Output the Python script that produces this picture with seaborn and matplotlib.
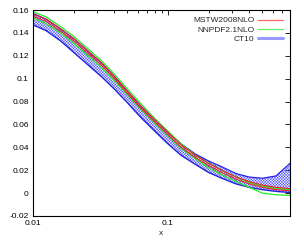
import matplotlib
matplotlib.use("Agg")
import matplotlib.pyplot as plt
import matplotlib.ticker as mticker
from matplotlib.lines import Line2D
import pandas as pd
import seaborn as sns

x = [0.01, 0.0125, 0.016, 0.02, 0.025, 0.032, 0.04, 0.05, 0.063, 0.08,
     0.1, 0.125, 0.16, 0.2, 0.25, 0.32, 0.4, 0.5, 0.63, 0.8]

mstw_hi = [0.1565, 0.152, 0.1435, 0.135, 0.125, 0.114, 0.102, 0.089, 0.076, 0.064,
           0.053, 0.042, 0.033, 0.026, 0.020, 0.014, 0.010, 0.007, 0.005, 0.004]
mstw_lo = [0.1545, 0.150, 0.1415, 0.133, 0.123, 0.112, 0.100, 0.087, 0.074, 0.062,
           0.051, 0.040, 0.031, 0.024, 0.018, 0.012, 0.008, 0.005, 0.003, 0.002]

nnpdf_hi = [0.1585, 0.154, 0.1455, 0.137, 0.127, 0.116, 0.104, 0.091, 0.078, 0.065,
            0.054, 0.043, 0.033, 0.026, 0.020, 0.014, 0.009, 0.006, 0.004, 0.003]
nnpdf_lo = [0.153, 0.148, 0.140, 0.131, 0.121, 0.110, 0.098, 0.086, 0.073, 0.061,
            0.050, 0.039, 0.030, 0.022, 0.016, 0.010, 0.005, 0.000, -0.0015, -0.002]

ct10_hi = [0.157, 0.152, 0.1435, 0.135, 0.125, 0.114, 0.102, 0.089, 0.076, 0.064,
           0.053, 0.043, 0.034, 0.028, 0.023, 0.017, 0.014, 0.013, 0.015, 0.026]
ct10_lo = [0.147, 0.142, 0.133, 0.123, 0.113, 0.102, 0.091, 0.079, 0.066, 0.054,
           0.043, 0.033, 0.025, 0.018, 0.013, 0.008, 0.005, 0.003, 0.0015, 0.0005]

df = pd.DataFrame({"x": x, "mstw_hi": mstw_hi, "mstw_lo": mstw_lo,
                   "nnpdf_hi": nnpdf_hi, "nnpdf_lo": nnpdf_lo,
                   "ct10_hi": ct10_hi, "ct10_lo": ct10_lo})

sns.set_theme(style="white")
plt.rcParams['font.family'] = ['Liberation Sans', 'DejaVu Sans']
plt.rcParams['hatch.linewidth'] = 0.35

fig = plt.figure(figsize=(3.04, 2.40), dpi=100)
ax = fig.add_axes([33 / 304, 1 - 216 / 240, 257 / 304, 206 / 240])

# CT10 hatched band
ax.fill_between(df["x"], df["ct10_lo"], df["ct10_hi"], facecolor="none",
                edgecolor="#4d4dff", hatch="x" * 12, linewidth=0)
sns.lineplot(data=df, x="x", y="ct10_hi", ax=ax, color="#2222ee", lw=0.9)
sns.lineplot(data=df, x="x", y="ct10_lo", ax=ax, color="#2222dd", lw=1.0)

sns.lineplot(data=df, x="x", y="nnpdf_hi", ax=ax, color="#22ee22", lw=0.9)
sns.lineplot(data=df, x="x", y="nnpdf_lo", ax=ax, color="#22ee22", lw=0.9)
sns.lineplot(data=df, x="x", y="mstw_hi", ax=ax, color="#ee2222", lw=0.8)
sns.lineplot(data=df, x="x", y="mstw_lo", ax=ax, color="#ee2222", lw=0.8)

ax.set_xscale("log")
ax.set_xlim(0.01, 0.8)
ax.set_ylim(-0.02, 0.16)
ax.xaxis.set_major_locator(mticker.FixedLocator([0.01, 0.1]))
ax.xaxis.set_major_formatter(mticker.FixedFormatter(["0.01", "0.1"]))
ax.xaxis.set_minor_locator(mticker.LogLocator(base=10, subs=range(2, 10), numticks=20))
ax.xaxis.set_minor_formatter(mticker.NullFormatter())
ax.set_yticks([-0.02, 0, 0.02, 0.04, 0.06, 0.08, 0.1, 0.12, 0.14, 0.16])
ax.set_yticklabels(["-0.02", "0", "0.02", "0.04", "0.06", "0.08", "0.1", "0.12", "0.14", "0.16"])

ax.tick_params(axis="both", which="both", direction="in", top=True, right=True,
               labelsize=6, pad=3, colors="black")
ax.tick_params(which="major", length=3.5, width=0.6)
ax.tick_params(which="minor", length=2, width=0.6)
for s in ax.spines.values():
    s.set_color("black")
    s.set_linewidth(0.8)

ax.set_xlabel("x", fontsize=6, labelpad=2)
ax.set_ylabel("")

handles = [Line2D([], [], color="#ff6666", lw=0.9),
           Line2D([], [], color="#66ee66", lw=0.9),
           Line2D([], [], color="#9999ff", lw=2.2)]
ax.legend(handles, ["MSTW2008NLO", "NNPDF2.1NLO", "CT10"], loc="upper right",
          frameon=False, markerfirst=False, fontsize=6, handlelength=3.0,
          labelspacing=0.15, handletextpad=0.5, borderaxespad=0.4)

fig.savefig("out.png", dpi=100)
